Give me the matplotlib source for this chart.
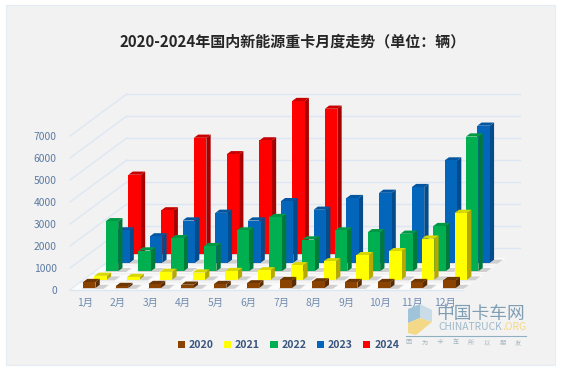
import matplotlib
matplotlib.use('Agg')
import matplotlib.pyplot as plt
from matplotlib.patches import Patch, Polygon, Rectangle

plt.rcParams['font.family'] = ['Noto Sans CJK SC', 'DejaVu Sans']

months = ['1月', '2月', '3月', '4月', '5月', '6月', '7月', '8月', '9月', '10月', '11月', '12月']
years = ['2020', '2021', '2022', '2023', '2024']

sales_2020 = [270, 90, 180, 150, 180, 210, 360, 300, 270, 270, 270, 360]
sales_2021 = [170, 120, 350, 320, 390, 420, 650, 830, 1110, 1290, 1860, 3030]
sales_2022 = [2270, 940, 1500, 1140, 1850, 2460, 1440, 1850, 1770, 1700, 2050, 6120]
sales_2023 = [1470, 1200, 1920, 2270, 1920, 2800, 2410, 2940, 3180, 3440, 4650, 6230]
sales_2024 = [3620, 2000, 5300, 4550, 5180, 6970, 6620, 0, 0, 0, 0, 0]
series = [sales_2020, sales_2021, sales_2022, sales_2023, sales_2024]

# front, side, top
colors = [('#8a4300', '#5a2c00', '#6e3602'),
          ('#ffff00', '#b5a800', '#d8d800'),
          ('#00b050', '#007a3a', '#009845'),
          ('#0466ba', '#034b8a', '#03569f'),
          ('#ff0000', '#a80000', '#c80000')]

W, H = 562, 371
LEFT, FLOOR, SLOT, PX_PER_K = 70, 290, 32.75, 22
# one row of depth moves this far in data units
DX = 11.35 / SLOT
DY = 8.4 / PX_PER_K * 1000
ROWS = 5

fig = plt.figure(figsize=(W / 100, H / 100), dpi=100, facecolor='white')
fig.patches.append(Rectangle((6 / W, 1 - 365 / H), 549 / W, 360 / H, transform=fig.transFigure,
                             facecolor='#f2f2f2', edgecolor='#e4ecf5', lw=0.8, zorder=-1))

ax = fig.add_axes([LEFT / W, 1 - FLOOR / H, 12 * SLOT / W, 8 * PX_PER_K / H])
ax.set_xlim(0, 12)
ax.set_ylim(0, 8000)
ax.patch.set_alpha(0)
for s in ax.spines.values():
    s.set_visible(False)


def pt(x, depth, val):
    return (x + depth * DX, val + depth * DY)


def poly(points, color, **kw):
    ax.add_patch(Polygon(points, closed=True, facecolor=color, edgecolor='none', clip_on=False, **kw))


# grid on back wall and left wall
grid_color = '#dde7f3'
for val in range(0, 8000, 1000):
    ax.plot(*zip(pt(0, ROWS, val), pt(12, ROWS, val)), color=grid_color, lw=1, clip_on=False, zorder=1)
    if val > 0:
        ax.plot(*zip(pt(0, 0, val), pt(0, ROWS, val)), color=grid_color, lw=1, clip_on=False, zorder=1)
ax.plot(*zip(pt(0, 0, 0), pt(12, 0, 0)), color=grid_color, lw=1, clip_on=False, zorder=1)
ax.plot(*zip(pt(0, 0, 0), pt(0, ROWS, 0)), color=grid_color, lw=1, clip_on=False, zorder=1)

BAR_W = 0.38
BAR_D = 0.38
OFFSET = 0.314
ROW_START = 0.24

# back row first so front rows cover it
for row in range(ROWS - 1, -1, -1):
    front, side, top = colors[row]
    d0 = row + ROW_START
    d1 = d0 + BAR_D
    for m, val in enumerate(series[row]):
        if val <= 0:
            continue
        x0 = m + OFFSET
        x1 = x0 + BAR_W
        # floor patch and soft shadow under the bar
        poly([pt(x0 - 0.3, d0 - 0.2, 0), pt(x1 + 0.3, d0 - 0.2, 0), pt(x1 + 0.3, d1 + 0.2, 0),
              pt(x0 - 0.3, d1 + 0.2, 0)], '#ffffff', alpha=0.75, zorder=2)
        poly([pt(x0, d0 - 0.1, 0), pt(x1 + 0.28, d0 - 0.1, 0), pt(x1 + 0.28, d1, 0),
              pt(x1, d1, 0), pt(x0, d0, 0)], '#9a9a9a', alpha=0.45, zorder=2)
        z = 10 + (ROWS - row) * 10
        poly([pt(x1, d0, 0), pt(x1, d1, 0), pt(x1, d1, val), pt(x1, d0, val)], side, zorder=z)
        poly([pt(x0, d0, val), pt(x1, d0, val), pt(x1, d1, val), pt(x0, d1, val)], top, zorder=z)
        poly([pt(x0, d0, 0), pt(x1, d0, 0), pt(x1, d0, val), pt(x0, d0, val)], front, zorder=z)

tick_color = '#5b7aa3'
ax.set_yticks(range(0, 8000, 1000))
ax.set_yticklabels([str(v) for v in range(0, 8000, 1000)])
ax.set_xticks([m + 0.45 for m in range(12)])
ax.set_xticklabels(months)
ax.tick_params(axis='y', length=0, pad=9.5, labelsize=7.4, labelcolor=tick_color)
ax.tick_params(axis='x', length=0, pad=6, labelsize=7.4, labelcolor='#6f8bb0')

fig.text(293 / W, 1 - 42 / H, '2020-2024年国内新能源重卡月度走势（单位：辆）', ha='center', va='center',
         fontsize=10.8, fontweight='bold', color='#262626')

handles = [Patch(facecolor=c[0], edgecolor='none', label=y) for c, y in zip(colors, years)]
fig.legend(handles=handles, ncol=5, frameon=False, loc='center left', bbox_to_anchor=(168 / W, 1 - 345 / H),
           handlelength=0.7, handleheight=0.7, handletextpad=0.35, columnspacing=0.98,
           labelcolor='#3a5580', prop={'weight': 'bold', 'size': 7.6})


# watermark
def fx(x, y):
    return (x / W, 1 - y / H)


logo = [([(408, 309), (420, 304), (420, 318), (408, 323)], '#9fc3d8'),
        ([(420, 304), (432, 310), (432, 322), (420, 318)], '#c9dce8'),
        ([(408, 323), (420, 318), (432, 322), (416, 335), (408, 333)], '#f3d987')]
for points, c in logo:
    fig.patches.append(Polygon([fx(*p) for p in points], closed=True, transform=fig.transFigure,
                               facecolor=c, edgecolor='none', zorder=20))
fig.text(*fx(481, 314), '中国卡车网', ha='center', va='center', fontsize=12.8, color='#7f9db3', zorder=20)
fig.text(*fx(438, 326.5), 'CHINATRUCK', ha='left', va='center', fontsize=7.4, color='#9fb9c9', zorder=20)
fig.text(*fx(526, 326.5), '.ORG', ha='right', va='center', fontsize=7.4, color='#f3d987', zorder=20)
fig.add_artist(plt.Line2D([406 / W, 526 / W], [1 - 336 / H] * 2, color='#8fb0c2', lw=0.8, zorder=20))
for i, ch in enumerate('因为卡车所以朋友'):
    fig.text(*fx(409 + i * 15.6, 342.5), ch, ha='center', va='center', fontsize=4.5, color='#a5b5c0', zorder=20)

fig.savefig('out.png', dpi=100)
